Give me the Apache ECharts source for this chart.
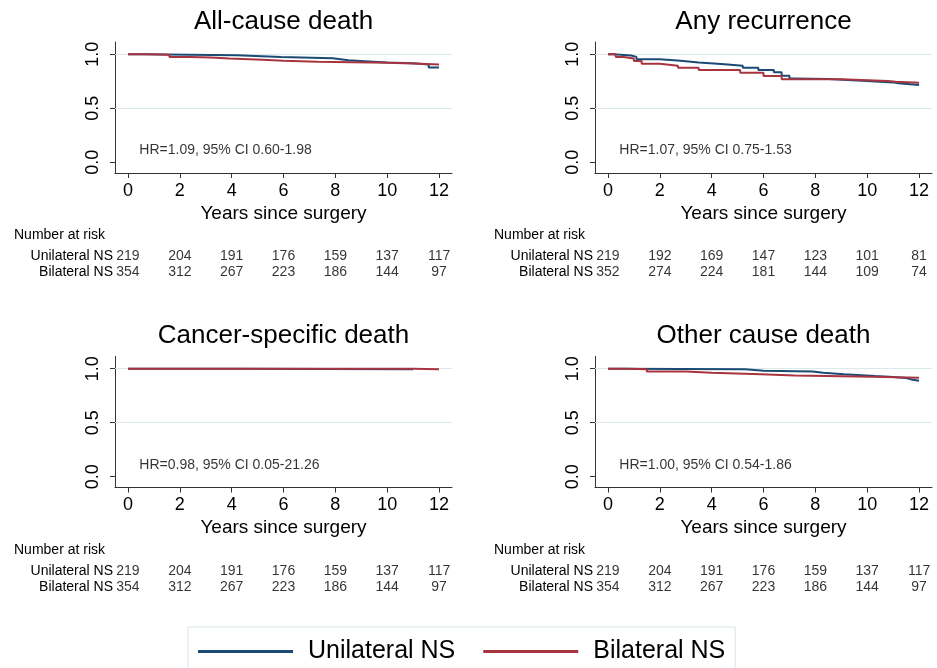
<!DOCTYPE html>
<html>
<head>
<meta charset="utf-8">
<script src="https://cdn.jsdelivr.net/npm/echarts@6/dist/echarts.min.js"></script>
<style>
  html, body { margin: 0; padding: 0; background: #fff; }
  #chart { width: 937px; height: 668px; }
</style>
</head>
<body>
<div id="chart"></div>
<script>
const groups = ['Unilateral NS', 'Bilateral NS'];
const panelTitles = ['All-cause death', 'Any recurrence', 'Cancer-specific death', 'Other cause death'];
const hrTexts = [
  'HR=1.09, 95% CI 0.60-1.98',
  'HR=1.07, 95% CI 0.75-1.53',
  'HR=0.98, 95% CI 0.05-21.26',
  'HR=1.00, 95% CI 0.54-1.86'
];
const xTicks = [0, 2, 4, 6, 8, 10, 12];
const yTicks = [0, 0.5, 1];
const riskTimes = [0, 2, 4, 6, 8, 10, 12];

// Kaplan-Meier steps: [years, survival from that time on]
const allCauseUni = [[0, 1], [0.5, 0.991], [4.2, 0.975], [5.9, 0.963], [7.9, 0.945], [8.5, 0.933], [9.3, 0.923], [10, 0.917], [11, 0.905], [11.6, 0.877], [12, 0.877]];
const allCauseBi = [[0, 1], [0.8, 0.994], [1.6, 0.975], [2.4, 0.969], [3.2, 0.96], [3.9, 0.948], [5.2, 0.939], [6, 0.929], [7.3, 0.92], [10, 0.914], [11, 0.905], [12, 0.905]];
const recurUni = [[0, 1], [0.2, 0.988], [0.9, 0.975], [1.1, 0.954], [2, 0.939], [2.8, 0.923], [3.5, 0.908], [4.5, 0.893], [5.2, 0.874], [5.8, 0.853], [6.4, 0.834], [6.7, 0.8], [7, 0.776], [7.2, 0.77], [8.5, 0.755], [9.8, 0.739], [11, 0.73], [11.2, 0.715], [12, 0.715]];
const recurBi = [[0, 1], [0.3, 0.975], [0.6, 0.96], [1, 0.936], [1.3, 0.911], [2, 0.893], [2.7, 0.874], [3.5, 0.853], [5.1, 0.828], [6, 0.798], [6.7, 0.767], [9, 0.752], [10.8, 0.745], [11.1, 0.736], [12, 0.736]];
const cancerUni = [[0, 1], [4.2, 0.994], [11, 0.994]];
const cancerBi = [[0, 1], [11, 0.996], [12, 0.996]];
const otherUni = [[0, 1], [0.4, 0.994], [5.3, 0.981], [6, 0.975], [7.9, 0.963], [8.3, 0.948], [9.1, 0.932], [10.3, 0.923], [11, 0.914], [11.5, 0.901], [11.7, 0.889], [12, 0.889]];
const otherBi = [[0, 1], [0.8, 0.994], [1.5, 0.975], [3, 0.963], [4, 0.948], [5.9, 0.938], [7.2, 0.926], [10.2, 0.917], [12, 0.917]];

// number at risk
const riskAllUni = [219, 204, 191, 176, 159, 137, 117];
const riskAllBi = [354, 312, 267, 223, 186, 144, 97];
const riskRecUni = [219, 192, 169, 147, 123, 101, 81];
const riskRecBi = [352, 274, 224, 181, 144, 109, 74];

const panels = [
  { uni: allCauseUni, bi: allCauseBi, riskUni: riskAllUni, riskBi: riskAllBi },
  { uni: recurUni, bi: recurBi, riskUni: riskRecUni, riskBi: riskRecBi },
  { uni: cancerUni, bi: cancerBi, riskUni: riskAllUni, riskBi: riskAllBi },
  { uni: otherUni, bi: otherBi, riskUni: riskAllUni, riskBi: riskAllBi }
];

const colors = ['#1b4a74', '#a8343f'];
const font = '"Liberation Sans", Arial, sans-serif';
const plotLeft = [115, 595];
const plotTop = [42, 356.5];
const tableTop = [248, 563];
const plotW = 337, plotH = 131;

const grid = [], xAxis = [], yAxis = [], series = [], graphic = [];

panels.forEach((p, k) => {
  const col = k % 2, row = Math.floor(k / 2);
  const g = k * 2, t = k * 2 + 1;

  grid.push({ left: plotLeft[col], top: plotTop[row], width: plotW, height: plotH });
  grid.push({ left: plotLeft[col], top: tableTop[row], width: plotW, height: 32 });

  xAxis.push({
    gridIndex: g, type: 'value', min: -0.5, max: 12.5,
    name: 'Years since surgery', nameLocation: 'middle', nameGap: 31,
    nameTextStyle: { fontSize: 19, color: '#000', fontFamily: font },
    axisLine: { show: true, onZero: false, lineStyle: { color: '#333', width: 1 } },
    axisTick: { show: true, length: 5, customValues: xTicks, lineStyle: { color: '#333' } },
    axisLabel: { customValues: xTicks, fontSize: 18, color: '#000', fontFamily: font, margin: 9 },
    splitLine: { show: false }
  });
  yAxis.push({
    gridIndex: g, type: 'value', min: -0.1, max: 1.113,
    axisLine: { show: true, onZero: false, lineStyle: { color: '#333', width: 1 } },
    axisTick: { show: true, length: 5, customValues: yTicks, lineStyle: { color: '#333' } },
    axisLabel: {
      customValues: yTicks, rotate: 90, fontSize: 18, color: '#000', fontFamily: font, margin: 13,
      formatter: v => v.toFixed(1)
    },
    splitLine: { show: false }
  });

  // risk table axes
  xAxis.push({ gridIndex: t, type: 'value', min: -0.5, max: 12.5, show: false });
  yAxis.push({
    gridIndex: t, type: 'category', data: groups.slice().reverse(),
    axisLine: { show: false }, axisTick: { show: false },
    axisLabel: { interval: 0, fontSize: 14, color: '#000', fontFamily: font, margin: 2 }
  });

  [p.uni, p.bi].forEach((d, i) => {
    series.push({
      name: groups[i], type: 'line', step: 'end', data: d,
      xAxisIndex: g, yAxisIndex: g, symbol: 'none', showSymbol: false,
      lineStyle: { width: 2, color: colors[i] }, itemStyle: { color: colors[i] },
      silent: true,
      markLine: i === 0 ? {
        silent: true, symbol: 'none', z: 1, label: { show: false },
        lineStyle: { color: '#dce9ec', width: 1.2, type: 'solid' },
        data: yTicks.filter(v => v > 0).map(v => ({ yAxis: v }))
      } : undefined
    });
  });

  series.push({
    type: 'scatter', xAxisIndex: g, yAxisIndex: g, silent: true,
    data: [[0.42, 0.11]], symbolSize: 1, itemStyle: { color: 'rgba(0,0,0,0)' },
    label: { show: true, position: 'right', distance: 0, formatter: hrTexts[k], fontSize: 14, color: '#000', fontFamily: font }
  });

  [p.riskUni, p.riskBi].forEach((r, i) => {
    series.push({
      type: 'scatter', xAxisIndex: t, yAxisIndex: t, silent: true,
      data: r.map((n, j) => [riskTimes[j], groups[i], n]),
      symbolSize: 1, itemStyle: { color: 'rgba(0,0,0,0)' },
      label: { show: true, position: 'inside', formatter: q => q.value[2], fontSize: 14, color: '#000', fontFamily: font }
    });
  });

  graphic.push({
    type: 'text', x: plotLeft[col] + plotW / 2, y: row === 0 ? 22 : 336, silent: true,
    style: { text: panelTitles[k], align: 'center', verticalAlign: 'middle', fontSize: 26, fill: '#000', fontFamily: font }
  });
  graphic.push({
    type: 'text', x: plotLeft[col] - 101, y: tableTop[row] - 13, silent: true,
    style: { text: 'Number at risk', align: 'left', verticalAlign: 'middle', fontSize: 14, fill: '#000', fontFamily: font }
  });
});

const chart = echarts.init(document.getElementById('chart'));
chart.setOption({
  animation: false,
  backgroundColor: '#fff',
  grid, xAxis, yAxis, series, graphic,
  legend: {
    data: groups, left: 188, top: 627, icon: 'rect', itemWidth: 95, itemHeight: 3, itemGap: 28,
    borderColor: '#d8e6ea', borderWidth: 1, padding: [12, 10, 18, 10],
    textStyle: { fontSize: 25, color: '#000', fontFamily: font, padding: [0, 0, 0, 10] }
  }
});
</script>
</body>
</html>
